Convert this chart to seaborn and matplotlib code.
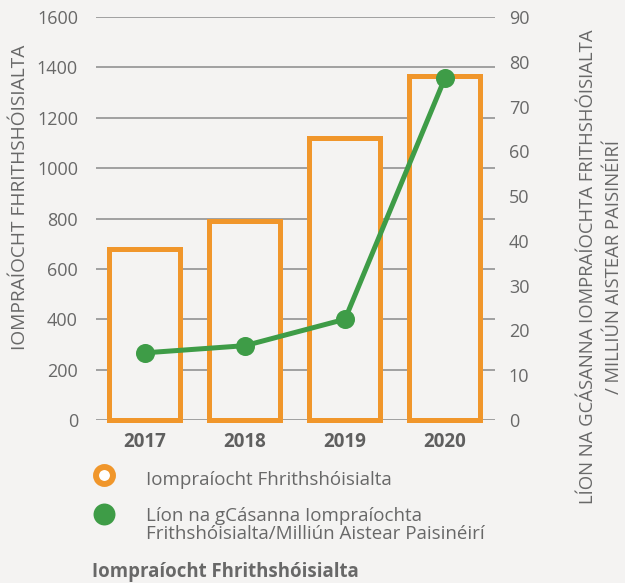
import seaborn as sns
import matplotlib.pyplot as plt
from matplotlib.lines import Line2D
import pandas as pd

# values
years = ["2017", "2018", "2019", "2020"]
behaviour_count = [677, 791, 1121, 1367]
rate_per_million = [15.0, 16.6, 22.5, 76.4]
left_ticks = [0, 200, 400, 600, 800, 1000, 1200, 1400, 1600]
right_ticks = [0, 10, 20, 30, 40, 50, 60, 70, 80, 90]

left_label = "IOMPRAÍOCHT FHRITHSHÓISIALTA"
right_label = "LÍON NA GCÁSANNA IOMPRAÍOCHTA FRITHSHÓISIALTA\n/ MILLIÚN AISTEAR PAISINÉIRÍ"
legend_bars = "Iompraíocht Fhrithshóisialta"
legend_line = ["Líon na gCásanna Iompraíochta",
               "Frithshóisialta/Milliún Aistear Paisinéirí"]
footer = "Iompraíocht Fhrithshóisialta"

bg = "#f4f3f2"
orange = "#f0962b"
green = "#3e9c47"
grey = "#686868"
grid_grey = "#8a8a8a"

sns.set_style("white", {"axes.facecolor": bg, "figure.facecolor": bg})
plt.rcParams["font.family"] = ["Open Sans", "DejaVu Sans"]

W, H = 625, 583
fig = plt.figure(figsize=(W / 100, H / 100), dpi=100)
ax = fig.add_axes([96 / W, 1 - 420 / H, 399 / W, 403 / H])

# bars
df = pd.DataFrame({"year": years, "count": behaviour_count})
sns.barplot(data=df, x="year", y="count", ax=ax, color=bg, saturation=1,
            edgecolor=orange, linewidth=3.6, width=0.71, zorder=2)
for p in ax.patches:
    p.set_clip_on(False)

ax.set_ylim(0, 1600)
ax.set_yticks(left_ticks)
ax.yaxis.grid(True, color=grid_grey, linewidth=1.1)
ax.set_axisbelow(True)
ax.tick_params(axis="y", length=0, pad=13, labelsize=13, labelcolor=grey)
ax.tick_params(axis="x", length=0, pad=8.5, labelsize=13.5, labelcolor="#5f5f5f")
for t in ax.get_xticklabels():
    t.set_fontweight("bold")
ax.set_xlabel("")
ax.set_ylabel("")
for s in ax.spines.values():
    s.set_visible(False)

# line on the secondary axis
ax2 = ax.twinx()
sns.pointplot(x=years, y=rate_per_million, ax=ax2, color=green,
              markersize=11, linewidth=3.6)
ax2.set_ylim(0, 90)
ax2.set_yticks(right_ticks)
ax2.tick_params(axis="y", length=0, pad=10, labelsize=13, labelcolor=grey)
ax2.set_xlabel("")
ax2.set_ylabel("")
for s in ax2.spines.values():
    s.set_visible(False)
ax.set_xlim(-0.49, 3.5)

# axis titles
fig.text(20 / W, 1 - 197 / H, left_label, rotation=90, ha="center", va="center",
         fontsize=13.8, color=grey)
fig.text(601 / W, 1 - 267 / H, right_label, rotation=90, ha="center", va="center",
         multialignment="center", linespacing=1.6, fontsize=13.3, color=grey)

# legend drawn by hand so the marker sits on the first line
fig.add_artist(Line2D([104 / W], [1 - 475 / H], marker="o", markersize=12.2,
                      markeredgewidth=4.3, markerfacecolor="white",
                      markeredgecolor=orange, transform=fig.transFigure))
fig.add_artist(Line2D([104 / W], [1 - 514 / H], marker="o", markersize=15.8,
                      markeredgewidth=0, markerfacecolor=green,
                      transform=fig.transFigure))
fig.text(146 / W, 1 - 485 / H, legend_bars, ha="left", va="baseline",
         fontsize=13.5, color=grey)
fig.text(146 / W, 1 - 521 / H, legend_line[0], ha="left", va="baseline",
         fontsize=13.5, color=grey)
fig.text(146 / W, 1 - 539 / H, legend_line[1], ha="left", va="baseline",
         fontsize=13.5, color=grey)
fig.text(92 / W, 1 - 577 / H, footer, ha="left", va="baseline",
         fontsize=13.4, fontweight="bold", color=grey)

fig.savefig("out.png", dpi=100, facecolor=bg)
